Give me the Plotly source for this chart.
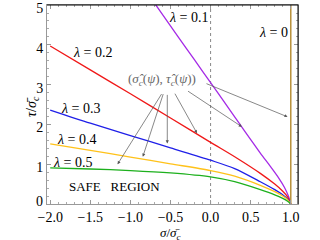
import plotly.graph_objects as go

# ---- data ----
sigma_01 = [-0.70, -0.40, -0.20, 0.0, 0.20, 0.36, 0.50, 0.62, 0.75, 0.85, 0.92, 0.97, 1.0]
tau_01 = [5.05, 4.19, 3.62, 3.05, 2.48, 2.02, 1.62, 1.28, 0.93, 0.65, 0.42, 0.20, 0.0]

sigma_02 = [-2.0, -1.5, -1.0, -0.5, 0.0, 0.33, 0.62, 0.80, 0.90, 0.96, 1.0]
tau_02 = [3.97, 3.37, 2.77, 2.16, 1.55, 1.15, 0.77, 0.50, 0.32, 0.18, 0.0]

sigma_rest = [-2.0, -1.5, -1.0, -0.5, 0.0, 0.30, 0.62, 0.80, 0.90, 0.96, 1.0]
tau_03 = [2.36, 2.03, 1.72, 1.41, 1.10, 0.89, 0.56, 0.36, 0.23, 0.13, 0.0]
tau_04 = [1.51, 1.35, 1.18, 1.01, 0.84, 0.70, 0.47, 0.31, 0.20, 0.11, 0.0]
tau_05 = [0.91, 0.88, 0.84, 0.78, 0.68, 0.56, 0.36, 0.23, 0.14, 0.07, 0.0]

sigma_00 = [1.0, 1.0]
tau_00 = [0.0, 5.0]

x_ticks = [-2.0, -1.5, -1.0, -0.5, 0.0, 0.5, 1.0]
y_ticks = [0, 1, 2, 3, 4, 5]
y_tick_text = ["", "1", "2", "3", "4", "5"]   # "0" is drawn separately, nudged up as in the reference

# marked points (sigma_hat, tau_hat) and arrow tails
point_sigma = [-1.16, -0.845, -0.54, -0.17, 0.39, 0.96]
point_tau = [1.00, 1.19, 1.52, 1.78, 1.94, 2.19]
tail_sigma = [-0.60, -0.585, -0.54, -0.455, -0.30, -0.07]
tail_tau = [2.80, 2.80, 2.78, 2.81, 2.86, 3.04]

FONT = "Times New Roman, Liberation Serif, serif"

fig = go.Figure()

fig.add_trace(go.Scatter(x=[0, 0], y=[0, 5], mode="lines",
                         line=dict(color="#888888", width=1, dash="dot"), showlegend=False))

curves = [
    (sigma_01, tau_01, "#A52AE6"),
    (sigma_02, tau_02, "#F01818"),
    (sigma_rest, tau_03, "#1F1FE8"),
    (sigma_rest, tau_04, "#FFC21A"),
    (sigma_rest, tau_05, "#1DB01D"),
]
for xs, ys, col in curves:
    fig.add_trace(go.Scatter(x=xs, y=ys, mode="lines",
                             line=dict(color=col, width=1.3, shape="spline", smoothing=0.8),
                             showlegend=False))

fig.add_trace(go.Scatter(x=sigma_00, y=tau_00, mode="lines",
                         line=dict(color="#B8903A", width=1.5), showlegend=False))

annotations = []
lam_labels = [
    ("<i>λ</i> = 0.1", -0.27, 4.68),
    ("<i>λ</i> = 0", 0.78, 4.3),
    ("<i>λ</i> = 0.2", -1.47, 3.8),
    ("<i>λ</i> = 0.3", -1.62, 2.4),
    ("<i>λ</i> = 0.4", -1.67, 1.63),
    ("<i>λ</i> = 0.5", -1.72, 1.05),
]
for txt, xx, yy in lam_labels:
    annotations.append(dict(x=xx, y=yy, text=txt, showarrow=False,
                            xanchor="center", yanchor="middle",
                            font=dict(family=FONT, size=14, color="black")))

annotations.append(dict(x=-1.2, y=0.43, text="SAFE\u00a0\u00a0\u00a0REGION", showarrow=False,
                        xanchor="center", yanchor="middle",
                        font=dict(family=FONT, size=13, color="black")))

annotations.append(dict(x=-0.61, y=3.14,
                        text="(<i>σ\u0302</i><sub><i>c</i></sub>(<i>ψ</i>), <i>τ\u0302</i><sub><i>c</i></sub>(<i>ψ</i>))",
                        showarrow=False, xanchor="center", yanchor="middle",
                        font=dict(family=FONT, size=13, color="#666666")))

for px, py, tx, ty in zip(point_sigma, point_tau, tail_sigma, tail_tau):
    annotations.append(dict(x=px, y=py, ax=tx, ay=ty, xref="x", yref="y", axref="x", ayref="y",
                            text="", showarrow=True, arrowhead=2, arrowsize=0.9, arrowwidth=0.7,
                            arrowcolor="#555555"))

# y tick label "0"
annotations.append(dict(x=0, y=y_ticks[0], xref="paper", yref="y", text="0", showarrow=False,
                        xanchor="right", yanchor="middle", xshift=-2, yshift=3,
                        font=dict(family=FONT, size=14, color="black")))

# axis titles placed as paper annotations
annotations.append(dict(x=0.494, y=-0.149, xref="paper", yref="paper", showarrow=False,
                        xanchor="center", yanchor="middle",
                        text="<i>σ</i>/<i>σ\u0304</i><sub><i>c</i></sub>",
                        font=dict(family=FONT, size=13, color="black")))
annotations.append(dict(x=-0.058, y=0.49, xref="paper", yref="paper", showarrow=False, textangle=-90,
                        xanchor="center", yanchor="middle",
                        text="<i>τ</i>/<i>σ\u0304</i><sub><i>c</i></sub>",
                        font=dict(family=FONT, size=14, color="black")))

fig.update_layout(
    width=320, height=240,
    margin=dict(l=47, r=22, t=5, b=36, autoexpand=False),
    paper_bgcolor="white", plot_bgcolor="white",
    font=dict(family=FONT, size=13, color="black"),
    annotations=annotations,
    shapes=[
        dict(type="line", xref="paper", yref="paper", x0=0, x1=1, y0=1, y1=1,
             line=dict(color="black", width=1)),
        dict(type="line", xref="paper", yref="paper", x0=1, x1=1, y0=0, y1=1,
             line=dict(color="black", width=1)),
    ],
)

fig.update_xaxes(range=[-2.04, 1.09], tickvals=x_ticks, tickformat=".1f", automargin=False,
                 showgrid=False, zeroline=False, showline=True, linecolor="#999999", linewidth=1,
                 mirror="ticks", ticks="inside", ticklen=4, tickcolor="#999999",
                 minor=dict(dtick=0.1, ticks="inside", ticklen=2, tickcolor="#aaaaaa"),
                 ticklabeloverflow="allow",
                 tickfont=dict(family=FONT, size=14, color="black"))
fig.update_yaxes(range=[0, 5.001], tickvals=y_ticks, ticktext=y_tick_text, automargin=False,
                 showgrid=False, zeroline=False, showline=True, linecolor="#999999", linewidth=1,
                 mirror="ticks", ticks="inside", ticklen=4, tickcolor="#999999",
                 minor=dict(dtick=0.2, ticks="inside", ticklen=2, tickcolor="#aaaaaa"),
                 ticklabeloverflow="allow", ticklabelshift=3,
                 tickfont=dict(family=FONT, size=14, color="black"))

fig.write_html("out.html", config={"displayModeBar": False},
               post_script="document.body.style.margin='0';")
